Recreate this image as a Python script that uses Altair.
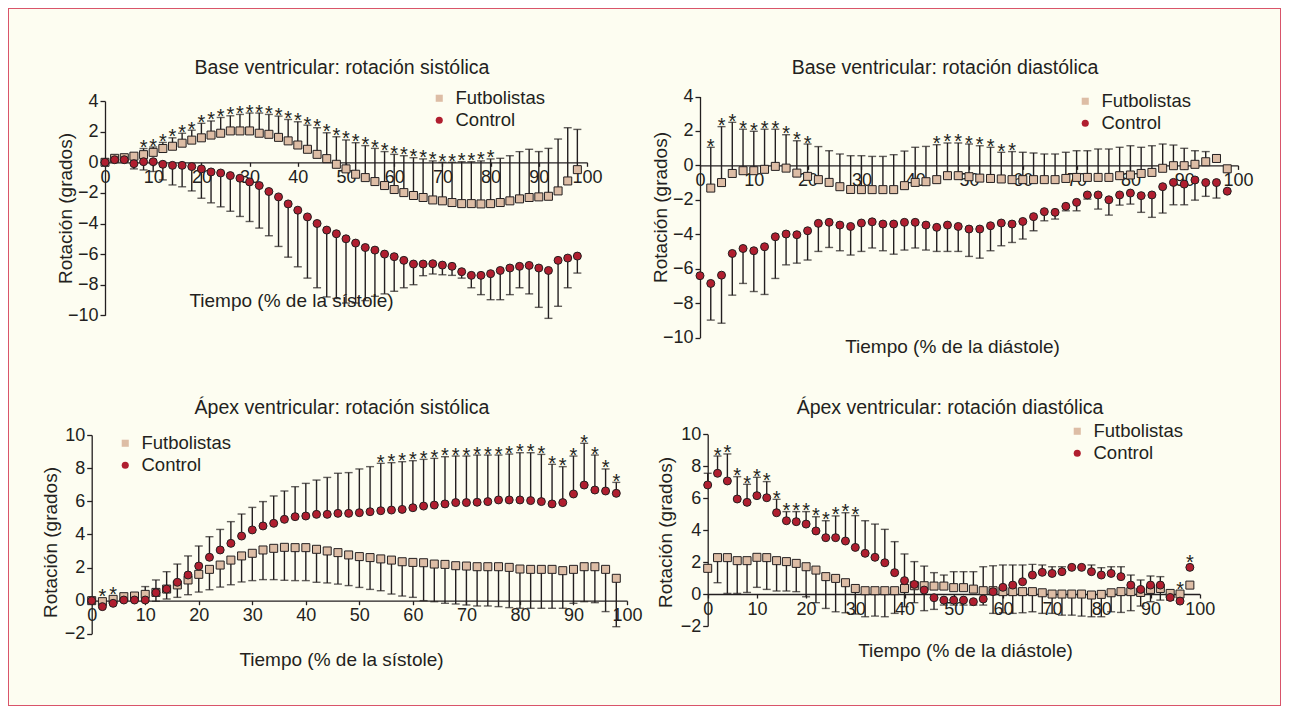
import altair as alt
import pandas as pd

# ---------------- data ----------------
X = [0, 2, 4, 6, 8, 10, 12, 14, 16, 18, 20, 22, 24, 26, 28, 30, 32, 34, 36, 38,
     40, 42, 44, 46, 48, 50, 52, 54, 56, 58, 60, 62, 64, 66, 68, 70, 72, 74, 76, 78,
     80, 82, 84, 86, 88, 90, 92, 94, 96, 98]

SERIES = ["Futbolistas", "Control"]

TITLES = ["Base ventricular: rotación sistólica", "Base ventricular: rotación diastólica",
          "Ápex ventricular: rotación sistólica", "Ápex ventricular: rotación diastólica"]
XTITLES = ["Tiempo (% de la sístole)", "Tiempo (% de la diástole)",
           "Tiempo (% de la sístole)", "Tiempo (% de la diástole)"]
YTITLE = "Rotación (grados)"
X_TICKS = [0, 10, 20, 30, 40, 50, 60, 70, 80, 90, 100]
Y_TICKS_BASE = [4, 2, 0, -2, -4, -6, -8, -10]
Y_TICKS_APEX = [10, 8, 6, 4, 2, 0, -2]

# Panel 1: base, systolic
P1_FUT = [0, 0.26, 0.3, 0.4, 0.5, 0.65, 0.9, 1.05, 1.25, 1.45,
          1.6, 1.78, 1.9, 2.05, 2.05, 2.05, 1.9, 1.83, 1.63, 1.4,
          1.13, 0.85, 0.52, 0.24, -0.13, -0.43, -0.78, -1.0, -1.26, -1.52,
          -1.78, -1.98, -2.17, -2.3, -2.46, -2.52, -2.63, -2.7, -2.7, -2.72,
          -2.7, -2.63, -2.52, -2.39, -2.3, -2.26, -2.22, -1.87, -1.22, -0.48]
P1_FUT_CAP = [0, 0.37, 0.43, 0.54, 0.9, 1.0, 1.3, 1.6, 1.9, 2.1,
              2.55, 2.7, 2.93, 3.04, 3.13, 3.22, 3.22, 3.13, 3.02, 2.8,
              2.65, 2.43, 2.26, 1.93, 1.67, 1.46, 1.28, 1.09, 0.91, 0.7,
              0.52, 0.43, 0.3, 0.22, 0.09, 0.0, 0.0, 0.04, 0.04, 0.09,
              0.22, 0.26, 0.43, 0.7, 0.85, 0.7, 0.91, 1.52, 2.26, 2.15]
P1_CTRL = [0, 0.17, 0.17, -0.09, 0.04, 0.04, -0.13, -0.2, -0.2, -0.28,
           -0.43, -0.63, -0.7, -0.87, -1.04, -1.28, -1.52, -1.91, -2.26, -2.72,
           -3.13, -3.57, -4.0, -4.43, -4.67, -5.0, -5.28, -5.57, -5.74, -6.0,
           -6.17, -6.41, -6.65, -6.65, -6.63, -6.72, -6.8, -7.15, -7.39, -7.39,
           -7.28, -7.07, -6.91, -6.8, -6.74, -6.91, -7.07, -6.41, -6.26, -6.13]
P1_CTRL_CAP = [0, 0.17, 0.17, -0.43, -0.5, -0.6, -1.15, -1.48, -1.6, -1.87,
               -2.35, -2.65, -2.91, -3.2, -3.54, -3.87, -4.3, -4.8, -5.5, -6.2,
               -6.83, -7.57, -8.2, -8.8, -8.9, -9.2, -9.2, -9.04, -8.76, -8.6,
               -8.43, -8.2, -8.0, -7.41, -7.3, -7.35, -7.39, -7.57, -8.2, -8.65,
               -8.98, -8.98, -8.65, -8.2, -8.6, -9.48, -10.2, -9.41, -8.2, -7.24]
P1_STARS_FUT_CAP = [8, 10, 12, 14, 16, 18, 20, 22, 24, 26, 28, 30, 32, 34, 36, 38, 40,
                    42, 44, 46, 48, 50, 52, 54, 56, 58, 60, 62, 64, 66, 68, 70, 72, 74,
                    76, 78, 80]

# Panel 2: base, diastolic
P2_FUT = [None, -1.32, -1.0, -0.47, -0.31, -0.31, -0.23, -0.06, -0.16, -0.45,
          -0.64, -0.83, -0.99, -1.24, -1.4, -1.41, -1.41, -1.41, -1.41, -1.18,
          -0.99, -0.95, -0.83, -0.6, -0.6, -0.66, -0.74, -0.76, -0.79, -0.83,
          -0.83, -0.83, -0.83, -0.83, -0.76, -0.7, -0.7, -0.7, -0.7, -0.6,
          -0.56, -0.47, -0.41, -0.17, -0.02, -0.02, 0.06, 0.21, 0.4, -0.2]
P2_FUT_CAP = [None, 1.05, 2.25, 2.5, 2.1, 1.98, 2.1, 2.1, 1.78, 1.43,
              1.24, 1.09, 0.85, 0.66, 0.56, 0.56, 0.52, 0.52, 0.62, 0.83,
              1.05, 1.1, 1.2, 1.3, 1.3, 1.24, 1.14, 1.05, 0.76, 0.8,
              0.76, 0.72, 0.66, 0.66, 0.76, 0.85, 0.85, 0.95, 0.95, 1.05,
              1.14, 1.05, 1.14, 1.24, 1.18, 0.99, 0.85, 0.8, 0.6, -0.2]
P2_CTRL = [-6.41, -6.86, -6.38, -5.12, -4.83, -4.96, -4.73, -4.15, -3.99, -4.03,
           -3.8, -3.37, -3.31, -3.47, -3.55, -3.35, -3.28, -3.41, -3.41, -3.31,
           -3.31, -3.47, -3.6, -3.47, -3.55, -3.7, -3.7, -3.51, -3.35, -3.41,
           -3.26, -2.98, -2.69, -2.73, -2.38, -2.15, -1.72, -1.72, -2.0, -1.72,
           -1.61, -1.76, -1.72, -1.24, -0.99, -1.09, -0.85, -1.0, -1.0, -1.5]
P2_CTRL_CAP = [-6.41, -8.99, -9.17, -7.54, -6.86, -7.33, -7.5, -6.57, -5.78, -5.68,
               -5.5, -5.0, -4.77, -4.96, -5.21, -5.0, -4.8, -4.96, -5.16, -4.92,
               -4.8, -4.92, -5.0, -5.0, -5.0, -5.29, -5.39, -4.96, -4.67, -4.48,
               -4.28, -3.8, -3.22, -3.12, -2.64, -2.64, -1.96, -2.54, -2.89, -2.31,
               -2.25, -2.73, -3.02, -2.77, -2.29, -2.29, -2.02, -1.8, -1.9, -1.5]
P2_STARS_FUT_CAP = [2, 4, 6, 8, 10, 12, 14, 16, 18, 20, 44, 46, 48, 50, 52, 54, 56, 58]

# Panel 3: apex, systolic
P3_FUT = [0, -0.06, 0.08, 0.24, 0.28, 0.38, 0.5, 0.7, 0.95, 1.25,
          1.59, 1.89, 2.15, 2.45, 2.7, 2.86, 3.06, 3.16, 3.22, 3.2,
          3.2, 3.1, 3.0, 2.9, 2.76, 2.66, 2.6, 2.52, 2.45, 2.35,
          2.31, 2.29, 2.21, 2.19, 2.11, 2.09, 2.05, 2.05, 2.05, 2.01,
          1.91, 1.89, 1.89, 1.89, 1.81, 1.89, 2.05, 2.05, 1.89, 1.35]
P3_FUT_CAP = [0, -0.06, 0.08, 0.12, 0.15, 0.0, -0.04, 0.1, 0.2, 0.36,
              0.52, 0.66, 0.82, 0.96, 1.13, 1.21, 1.27, 1.27, 1.23, 1.21,
              1.21, 1.11, 1.07, 1.0, 0.91, 0.8, 0.68, 0.6, 0.4, 0.28,
              0.2, 0.0, -0.06, -0.16, -0.2, -0.26, -0.32, -0.32, -0.36, -0.42,
              -0.46, -0.46, -0.46, -0.46, -0.46, -0.16, -0.06, -0.12, -0.66, -1.57]
P3_CTRL = [0, -0.36, -0.16, 0.04, 0.04, 0.04, 0.48, 0.7, 1.11, 1.55,
           2.09, 2.62, 3.06, 3.46, 3.9, 4.27, 4.51, 4.67, 4.91, 5.07,
           5.11, 5.21, 5.21, 5.27, 5.27, 5.31, 5.37, 5.43, 5.47, 5.51,
           5.61, 5.71, 5.77, 5.84, 5.92, 5.92, 5.94, 5.98, 6.08, 6.08,
           6.08, 6.04, 5.98, 5.84, 5.92, 6.44, 6.98, 6.68, 6.62, 6.48]
P3_CTRL_CAP = [0, -0.36, -0.16, 0.04, 0.04, 0.85, 1.25, 1.75, 2.21, 2.7,
               3.3, 3.86, 4.3, 4.77, 5.23, 5.63, 5.98, 6.32, 6.62, 6.88,
               7.08, 7.28, 7.44, 7.69, 7.73, 7.95, 8.09, 8.29, 8.33, 8.39,
               8.45, 8.53, 8.59, 8.69, 8.73, 8.73, 8.79, 8.79, 8.79, 8.85,
               8.93, 8.93, 8.83, 8.23, 8.09, 8.73, 9.5, 8.79, 7.95, 7.14]
P3_STARS_FUT_MARK = [2, 4]
P3_STARS_CTRL_CAP = [54, 56, 58, 60, 62, 64, 66, 68, 70, 72, 74, 76, 78, 80, 82, 84,
                     86, 88, 90, 92, 94, 96, 98]

# Panel 4: apex, diastolic
P4_FUT = [1.61, 2.28, 2.28, 2.09, 2.09, 2.3, 2.28, 2.09, 2.03, 1.92,
          1.71, 1.5, 1.09, 0.98, 0.71, 0.35, 0.21, 0.21, 0.21, 0.21,
          0.35, 0.52, 0.52, 0.5, 0.5, 0.4, 0.4, 0.31, 0.21, 0.21,
          0.15, 0.15, 0.15, 0.15, 0.08, 0.0, 0.0, 0.0, 0.0, -0.06,
          -0.02, 0.08, 0.15, 0.15, 0.1, 0.29, 0.35, 0.04, 0.0, 0.56]
P4_FUT_CAP = [1.61, 0.71, 0.04, 0.04, 0.1, 0.42, 0.29, 0.19, 0.19, 0.15,
              -0.17, -0.54, -0.9, -1.11, -1.17, -1.25, -1.42, -1.38, -1.42, -1.21,
              -0.79, -0.54, 1.75, 1.34, 1.19, 1.4, 1.4, 1.4, 1.71, -1.21,
              -1.17, -1.21, -1.17, -1.11, -1.21, -1.21, -1.32, -1.32, -1.38, -1.42,
              -1.42, -1.11, -1.15, -1.04, -0.75, -0.48, -0.38, -0.38, 0.0, 0.56]
P4_CTRL = [6.83, 7.56, 7.08, 5.95, 5.74, 6.16, 6.03, 5.09, 4.59, 4.53,
           4.38, 3.95, 3.53, 3.53, 3.32, 2.92, 2.55, 2.3, 1.96, 1.34,
           0.84, 0.6, 0.25, -0.23, -0.38, -0.38, -0.38, -0.48, -0.31, 0.15,
           0.42, 0.56, 0.77, 1.19, 1.36, 1.29, 1.4, 1.67, 1.67, 1.4,
           1.19, 1.29, 1.09, 0.56, 0.29, 0.56, 0.56, -0.21, -0.44, 1.67]
P4_CTRL_CAP = [7.56, 8.64, 8.77, 7.35, 6.87, 7.31, 7.04, 5.93, 5.16, 5.16,
               5.16, 4.84, 4.59, 4.89, 5.09, 4.91, 4.59, 4.38, 4.05, 3.28,
               2.51, 2.03, -1.04, -0.96, -0.69, -0.69, -0.69, -0.69, -0.69, 1.77,
               1.82, 1.82, 1.82, 1.86, 1.82, 1.71, 1.71, 1.75, 1.75, 1.82,
               1.65, 1.71, 1.71, 1.19, 0.88, 1.13, 1.09, -0.35, -0.44, 1.67]
P4_STARS_CTRL_CAP = [2, 4, 6, 8, 10, 12, 14, 16, 18, 20, 22, 24, 26, 28, 30]
P4_STARS_FUT_MARK = [96]
P4_STARS_CTRL_MARK = [98]

# ---------------- style ----------------
FONT = "Liberation Sans Narrow, Arial Narrow, Liberation Sans, sans-serif"
INK = "#231F20"
FUT_FILL = "#DDBDA5"
CTRL_FILL = "#B01E2F"
BG = "#FDFDF1"
FRAME = "#D9546A"
W, H = 1273, 698
TICK_FS = 18
TITLE_FS = 19.5
AXT_FS = 19
LEG_FS = 18.5
STAR_FS = 20


def panel(fut, fut_cap, ctrl, ctrl_cap, stars, xrange, ydom, yrange, yticks,
          xoff, yoff, xtitle, xtpos, ytpos, legpos):
    rows = []
    for s, vals, caps in ((SERIES[0], fut, fut_cap), (SERIES[1], ctrl, ctrl_cap)):
        for x, v, c in zip(X, vals, caps):
            if v is None:
                continue
            rows.append({"x": x, "s": s, "v": v, "cap": c})
    df = pd.DataFrame(rows)
    bars = df[(df["cap"] - df["v"]).abs() > 0.04]

    star_rows = []
    for s, kind, xs in stars:
        for x in xs:
            r = df[(df["s"] == s) & (df["x"] == x)].iloc[0]
            star_rows.append({"x": x, "a": r["cap"] if kind == "cap" else r["v"], "k": kind})
    sdf = pd.DataFrame(star_rows)

    xscale = alt.Scale(domain=[0, 100], range=xrange, nice=False, zero=False)
    yscale = alt.Scale(domain=ydom, range=yrange, nice=False, zero=False)
    xaxis = alt.Axis(orient="bottom", offset=xoff, values=X_TICKS, title=xtitle,
                     titleX=xtpos[0], titleY=xtpos[1], titleAlign="center",
                     titleBaseline="middle", tickSize=4, labelPadding=2)
    yaxis = alt.Axis(orient="left", offset=yoff, values=yticks, title=YTITLE,
                     titleX=ytpos[0], titleY=ytpos[1], titleAngle=270,
                     titleAlign="center", titleBaseline="middle", tickSize=5,
                     labelPadding=2)
    xe = alt.X("x:Q", scale=xscale, axis=xaxis)

    leg = alt.Legend(title=None, orient="none", legendX=legpos[0], legendY=legpos[1],
                     labelFont=FONT, labelFontSize=LEG_FS, labelColor=INK, symbolSize=50,
                     symbolStrokeColor=INK, symbolStrokeWidth=1, labelOffset=7,
                     rowPadding=3, padding=0)

    rules = alt.Chart(bars).mark_rule(color=INK, strokeWidth=1.4).encode(
        x=xe, y=alt.Y("v:Q", scale=yscale, axis=yaxis), y2="cap:Q")
    caps = alt.Chart(bars).mark_tick(orient="horizontal", color=INK, size=8,
                                     thickness=1.4).encode(
        x=xe, y=alt.Y("cap:Q", scale=yscale, axis=yaxis))
    pts = alt.Chart(df).mark_point(filled=False, stroke=INK, strokeWidth=1, size=64,
                                   opacity=1).encode(
        x=xe, y=alt.Y("v:Q", scale=yscale, axis=yaxis),
        fill=alt.Fill("s:N", scale=alt.Scale(domain=SERIES, range=[FUT_FILL, CTRL_FILL]),
                      legend=leg),
        shape=alt.Shape("s:N", scale=alt.Scale(domain=SERIES, range=["square", "circle"]),
                        legend=leg))
    layers = [rules, caps, pts]
    for kind, dy in (("cap", 5.5), ("mark", 1.5)):
        sub = sdf[sdf["k"] == kind]
        if len(sub):
            layers.append(alt.Chart(sub).mark_text(text="*", font=FONT, fontSize=STAR_FS,
                                                   color=INK, baseline="alphabetic",
                                                   dy=dy).encode(
                x=xe, y=alt.Y("a:Q", scale=yscale, axis=yaxis)))
    return alt.layer(*layers)


p1 = panel(P1_FUT, P1_FUT_CAP, P1_CTRL, P1_CTRL_CAP,
           [(SERIES[0], "cap", P1_STARS_FUT_CAP)],
           [97, 579], [-10, 4], [307.3, 93.1], Y_TICKS_BASE,
           154.3 - H, -97, XTITLES[0], (283, 137.7), (-40, 200), (422, 81))
p2 = panel(P2_FUT, P2_FUT_CAP, P2_CTRL, P2_CTRL_CAP,
           [(SERIES[0], "cap", P2_STARS_FUT_CAP)],
           [692, 1230], [-10, 4], [329.5, 88.5], Y_TICKS_BASE,
           157.4 - H, -692, XTITLES[1], (944, 180.6), (-40, 199), (1068, 84))
p3 = panel(P3_FUT, P3_FUT_CAP, P3_CTRL, P3_CTRL_CAP,
           [(SERIES[0], "mark", P3_STARS_FUT_MARK), (SERIES[1], "cap", P3_STARS_CTRL_CAP)],
           [83.7, 619], [-2, 10], [625.8, 427], Y_TICKS_APEX,
           592.7 - H, -83.7, XTITLES[2], (333, 58.3), (-41, 534), (108, 426))
p4 = panel(P4_FUT, P4_FUT_CAP, P4_CTRL, P4_CTRL_CAP,
           [(SERIES[1], "cap", P4_STARS_CTRL_CAP), (SERIES[0], "mark", P4_STARS_FUT_MARK),
            (SERIES[1], "mark", P4_STARS_CTRL_MARK)],
           [699.7, 1191.7], [-2, 10], [618, 426.3], Y_TICKS_APEX,
           586 - H, -699.7, XTITLES[3], (957, 56), (-42, 524), (1060, 414))


def title_text(t, px, py):
    return alt.Chart(pd.DataFrame({"t": [t]})).mark_text(
        font=FONT, fontSize=TITLE_FS, color=INK, align="center", baseline="middle").encode(
        text="t:N", x=alt.value(px), y=alt.value(py))


titles = [title_text(TITLES[0], 334, 60), title_text(TITLES[1], 937, 60),
          title_text(TITLES[2], 334, 400), title_text(TITLES[3], 942, 400)]

chart = alt.layer(p1, p2, p3, p4, *titles).resolve_scale(
    x="independent", y="independent", fill="independent", shape="independent"
).properties(
    width=W, height=H, padding=0, background=BG,
    autosize=alt.AutoSizeParams(type="none")
).configure_view(
    stroke=FRAME, strokeWidth=2
).configure_axis(
    grid=False, labelFont=FONT, titleFont=FONT, labelFontSize=TICK_FS,
    titleFontSize=AXT_FS, labelColor=INK, titleColor=INK, titleFontWeight="normal",
    domainColor=INK, tickColor=INK, domainWidth=1.3, tickWidth=1.3,
    labelFlush=False, labelOverlap=False
)

chart.save("out.html", embed_options={"renderer": "svg", "actions": False})
